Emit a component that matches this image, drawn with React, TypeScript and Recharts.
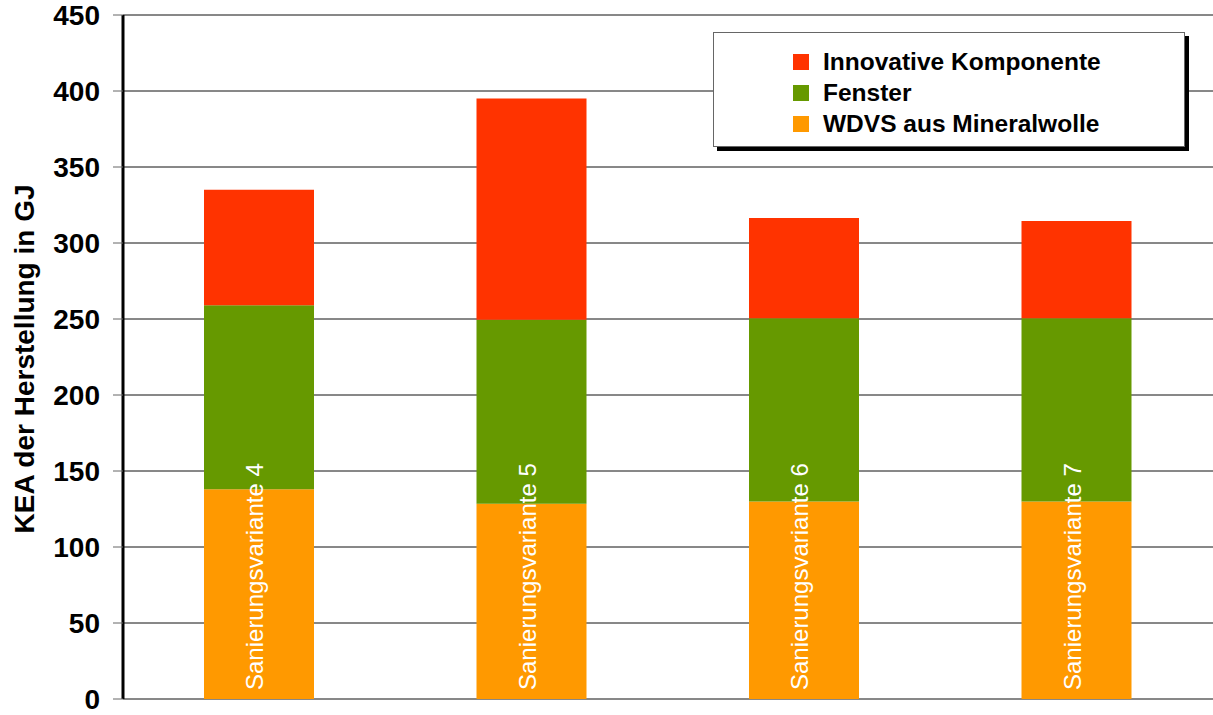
import React from "react";
import {
    BarChart,
    Bar,
    XAxis,
    YAxis,
    CartesianGrid,
    Legend,
    LabelList,
} from "recharts";

const variants = [
    "Sanierungsvariante 4",
    "Sanierungsvariante 5",
    "Sanierungsvariante 6",
    "Sanierungsvariante 7",
];
const wdvs = [138, 128.5, 130, 130];
const fenster = [121, 121, 120.5, 120.5];
const innovativ = [76, 145.5, 66, 64];
const yTicks = [0, 50, 100, 150, 200, 250, 300, 350, 400, 450];
const edgeTicks = [0, 1, 2, 3];

const colors = {
    wdvs: "#FF9900",
    fenster: "#669900",
    innovativ: "#FF3300",
};

const legendItems = [
    { label: "Innovative Komponente", color: colors.innovativ },
    { label: "Fenster", color: colors.fenster },
    { label: "WDVS aus Mineralwolle", color: colors.wdvs },
];

const chartData = variants.map((name, i) => ({
    name,
    wdvs: wdvs[i],
    fenster: fenster[i],
    innovativ: innovativ[i],
}));

const FONT = "'Liberation Sans', Arial, Helvetica, sans-serif";

const YTick = (props: any) => {
    const { x, y, payload } = props;
    return (
        <text
            x={x}
            y={y + 10}
            textAnchor="end"
            fontFamily={FONT}
            fontSize={28}
            fontWeight="bold"
            fill="#000"
        >
            {payload.value}
        </text>
    );
};

const BarName = (props: any) => {
    const { x, y, width, height, value } = props;
    const cx = x + width / 2 + 4;
    const by = y + height - 9;
    return (
        <text
            x={cx}
            y={by}
            transform={`rotate(-90, ${cx}, ${by})`}
            textAnchor="start"
            fontFamily={FONT}
            fontSize={24}
            fill="#fff"
        >
            {value}
        </text>
    );
};

const YLabel = () => (
    <text
        x={34}
        y={359}
        transform="rotate(-90, 34, 359)"
        textAnchor="middle"
        fontFamily={FONT}
        fontSize={28}
        fontWeight="bold"
        fill="#000"
    >
        KEA der Herstellung in GJ
    </text>
);

const LegendBox = () => (
    <div
        style={{
            width: 472,
            height: 115,
            boxSizing: "border-box",
            border: "1px solid #666",
            background: "#fff",
            boxShadow: "4px 4px 0 #000",
            paddingTop: 13,
            paddingLeft: 79,
            fontFamily: FONT,
        }}
    >
        {legendItems.map((item) => (
            <div
                key={item.label}
                style={{ display: "flex", alignItems: "center", height: 31 }}
            >
                <div
                    style={{
                        width: 16,
                        height: 16,
                        background: item.color,
                        marginRight: 14,
                    }}
                />
                <span style={{ fontSize: 24.5, fontWeight: "bold", color: "#000" }}>
                    {item.label}
                </span>
            </div>
        ))}
    </div>
);

const App: React.FC = () => {
    return (
        <div style={{ position: "absolute", left: 0, top: 0, background: "#fff" }}>
            <BarChart
                width={1213}
                height={715}
                data={chartData}
                margin={{ top: 15, right: 0, bottom: 6, left: 0 }}
            >
                <CartesianGrid
                    vertical={false}
                    stroke="#111"
                    strokeWidth={1}
                    yAxisId="kea"
                    xAxisId="cat"
                />
                <XAxis dataKey="name" xAxisId="cat" hide />
                <XAxis
                    xAxisId="edges"
                    type="number"
                    domain={[0, 4]}
                    ticks={edgeTicks}
                    tick={false}
                    height={10}
                    axisLine={{ stroke: "#000", strokeWidth: 3 }}
                    tickLine={{ stroke: "#777" }}
                    tickSize={6}
                />
                <YAxis
                    yAxisId="kea"
                    domain={[0, 450]}
                    ticks={yTicks}
                    width={123}
                    interval={0}
                    axisLine={{ stroke: "#000", strokeWidth: 3 }}
                    tickLine={{ stroke: "#666" }}
                    tickSize={10}
                    tickMargin={13}
                    tick={<YTick />}
                    label={<YLabel />}
                />
                <Legend
                    layout="vertical"
                    align="center"
                    verticalAlign="middle"
                    content={<LegendBox />}
                    wrapperStyle={{ left: 713, top: 32, width: 480 }}
                />

                <Bar
                    dataKey="wdvs"
                    stackId="a"
                    xAxisId="cat"
                    yAxisId="kea"
                    fill={colors.wdvs}
                    barSize={110}
                    isAnimationActive={false}
                >
                    <LabelList dataKey="name" content={<BarName />} />
                </Bar>
                <Bar
                    dataKey="fenster"
                    stackId="a"
                    xAxisId="cat"
                    yAxisId="kea"
                    fill={colors.fenster}
                    barSize={110}
                    isAnimationActive={false}
                />
                <Bar
                    dataKey="innovativ"
                    stackId="a"
                    xAxisId="cat"
                    yAxisId="kea"
                    fill={colors.innovativ}
                    barSize={110}
                    isAnimationActive={false}
                />
            </BarChart>
        </div>
    );
};

export default App;
